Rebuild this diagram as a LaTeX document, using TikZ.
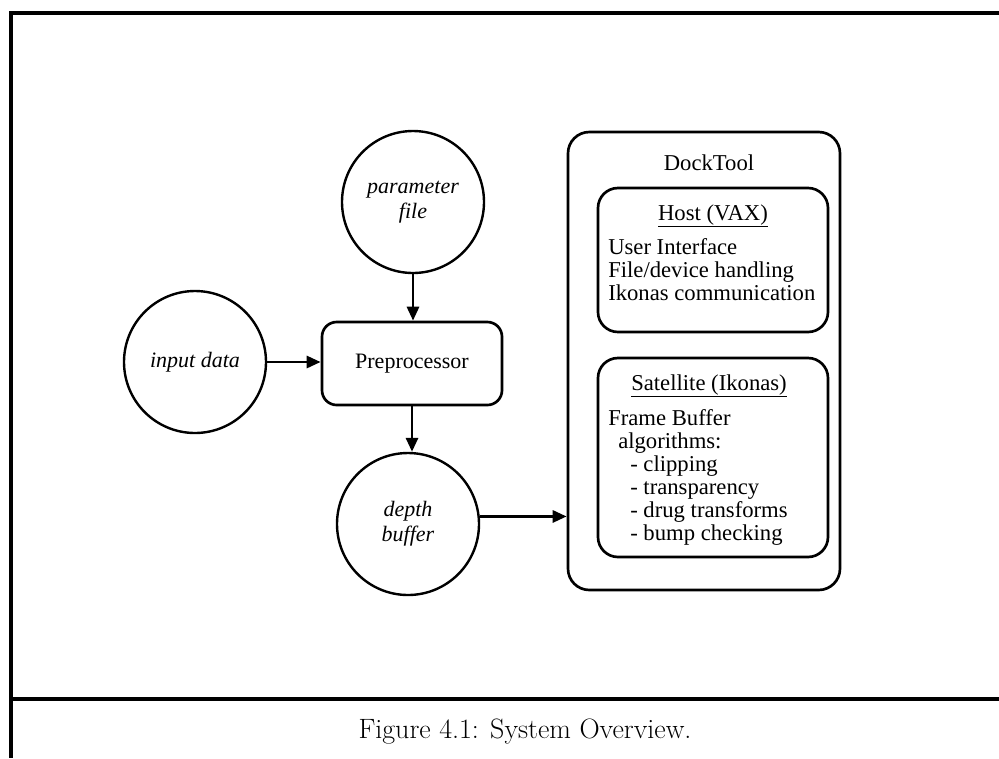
\documentclass[tikz,border=0pt]{standalone}
\usepackage{fontspec}
\newfontfamily\tnr{Liberation Serif}
\usetikzlibrary{arrows.meta}
\begin{document}
\begin{tikzpicture}[x=0.75pt,y=-0.75pt,
  frame/.style={line width=2.5pt,line join=miter},
  circ/.style={circle,draw,line width=1.8pt,minimum size=106.5pt,inner sep=0pt,
    font=\tnr\itshape\fontsize{16.5}{19}\selectfont,align=center},
  rbox/.style={draw,rounded corners=11pt,line width=2pt,inner sep=0pt},
  arr/.style={line width=2.2pt,-{Triangle[length=10.5pt,width=9pt]}},
  txt/.style={font=\tnr\fontsize{17}{17.5}\selectfont,inner sep=0pt,anchor=base west},
]
\useasboundingbox (0,0) rectangle (999,758);
% outer frame
\coordinate (ftr) at (999,13);
\coordinate (ftl) at (11,13);
\coordinate (fbl) at (11,758);
\coordinate (fml) at (11,699);
\coordinate (fmr) at (999,699);
\draw[frame] (ftr) -- (ftl) -- (fbl);
\draw[frame] (fml) -- (fmr);

% circles
\node[circ] (param) at (413,202) {parameter\\file};
\node[circ] (input) at (195,362) {input data};
\node[circ] (depth) at (408,524) {depth\\buffer};

% preprocessor
\node[rbox,minimum width=135pt,minimum height=62.25pt,
  font=\tnr\fontsize{16.5}{19}\selectfont] (pre) at (412,363.5) {Preprocessor};

% DockTool boxes
\node[rbox,rounded corners=16pt,minimum width=204pt,minimum height=343.5pt] (dock) at (704,361) {};
\node[rbox,rounded corners=15pt,minimum width=172.5pt,minimum height=108pt] (host) at (713,260) {};
\node[rbox,rounded corners=15pt,minimum width=172.5pt,minimum height=149.25pt] (sat) at (713,457.5) {};

\node[txt,anchor=base] (dt) at (709,170) {DockTool};
\node[txt,anchor=base] (ht) at (713,220) {\underline{Host (VAX)}};
\node[txt] (h1) at (608,254) {User Interface};
\node[txt] (h2) at (608,277) {File/device handling};
\node[txt] (h3) at (608,300) {Ikonas communication};
\node[txt,anchor=base] (st) at (709,390) {\underline{Satellite (Ikonas)}};
\node[txt] (s1) at (608,425) {Frame Buffer};
\node[txt] (s2) at (618,448) {algorithms:};
\node[txt] (s3) at (630,471) {- clipping};
\node[txt] (s4) at (630,494) {- transparency};
\node[txt] (s5) at (630,517) {- drug transforms};
\node[txt] (s6) at (630,540) {- bump checking};

% arrows
\draw[arr] (input.east) -- (input.east -| pre.west);
\draw[arr] (param.south) -- (param.south |- pre.north);
\draw[arr] (pre.south) -- (pre.south |- depth.north);
\draw[arr] (depth.6) -- (depth.6 -| dock.west);

% caption
\node[font=\fontsize{21}{25}\selectfont] (cap) at (525,732) {Figure 4.1: System Overview.};
\end{tikzpicture}
\end{document}
